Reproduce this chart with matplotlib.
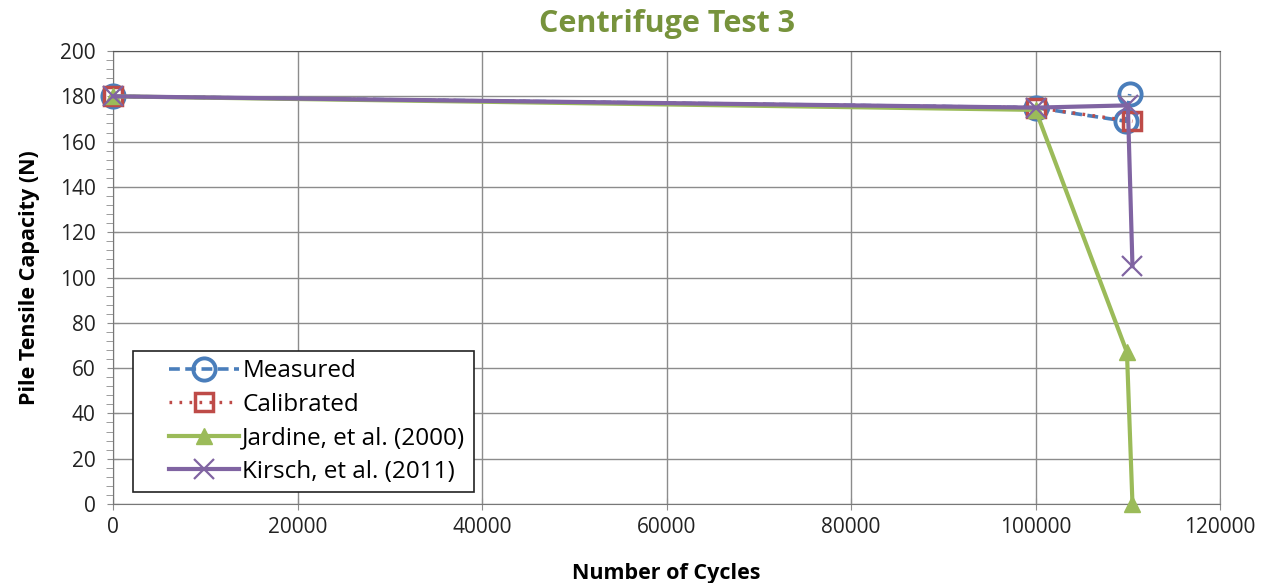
import matplotlib.pyplot as plt
from matplotlib.ticker import MultipleLocator
from matplotlib.legend_handler import HandlerLine2D

# pile tensile capacity vs number of cycles
measured_x = [0, 100000, 109800, 110200]
measured_y = [180, 175, 169, 181]
calibrated_x = [0, 100000, 110500]
calibrated_y = [180, 175, 169]
jardine_x = [0, 100000, 109900, 110500]
jardine_y = [180, 174, 67, 0]
kirsch_x = [0, 100000, 110000, 110500]
kirsch_y = [180, 175, 176, 105]

grey = '#8c8c8c'
plt.rcParams['font.family'] = ['Open Sans', 'DejaVu Sans']


class IndentedHandler(HandlerLine2D):
    # legend line pushed to the right, leaving a gap before it
    def create_artists(self, legend, orig_handle, xdescent, ydescent,
                       width, height, fontsize, trans):
        gap = 20
        return super().create_artists(legend, orig_handle, xdescent - gap,
                                      ydescent, width - gap, height,
                                      fontsize, trans)


fig = plt.figure(figsize=(12.67, 5.83), dpi=100)
ax = fig.add_axes([0.0892, 0.1355, 0.8738, 0.777])

ax.plot(measured_x, measured_y, color='#4a7ebb', lw=2.6, ls=(0, (3, 1.5)),
        marker='o', ms=16, mfc='none', mew=2.8, label='Measured', zorder=3,
        clip_on=False)
ax.plot(calibrated_x, calibrated_y, color='#be4b48', lw=2.4, ls=(0, (0.8, 2.2)),
        marker='s', ms=13, mfc='none', mew=2.5, label='Calibrated', zorder=4,
        clip_on=False)
ax.plot(jardine_x, jardine_y, color='#9bbb59', lw=3, marker='^', ms=12,
        label='Jardine, et al. (2000)', zorder=5, clip_on=False)
ax.plot(kirsch_x, kirsch_y, color='#8064a2', lw=3, marker='x', ms=14, mew=1.6,
        label='Kirsch, et al. (2011)', zorder=6, clip_on=False)

ax.set_xlim(0, 120000)
ax.set_ylim(0, 200)
ax.xaxis.set_major_locator(MultipleLocator(20000))
ax.yaxis.set_major_locator(MultipleLocator(20))
ax.yaxis.set_minor_locator(MultipleLocator(4))
ax.grid(True, color=grey, lw=1)
ax.set_axisbelow(True)
ax.tick_params(axis='both', which='major', direction='inout', length=9,
               color=grey, labelsize=15, labelcolor='#222222')
ax.tick_params(axis='y', which='major', pad=8)
ax.tick_params(axis='x', which='major', pad=5)
ax.tick_params(axis='y', which='minor', direction='out', length=5, color=grey)
for s in ax.spines.values():
    s.set_color(grey)
ax.spines['left'].set_color('#777777')
ax.spines['bottom'].set_color('#777777')
ax.spines['top'].set_color('#555555')

ax.set_title('Centrifuge Test 3', color='#77933c', fontsize=22,
             fontweight='bold', pad=14)
ax.set_xlabel('Number of Cycles', fontsize=15.5, fontweight='bold', labelpad=18)
ax.set_ylabel('Pile Tensile Capacity (N)', fontsize=15.5, fontweight='bold',
              labelpad=14)

leg = ax.legend(loc='lower left', bbox_to_anchor=(0.018, 0.026), fontsize=17.5,
                frameon=True, fancybox=False, edgecolor='#222222',
                framealpha=1, borderpad=0.35, handlelength=4.0,
                labelspacing=0.39, handletextpad=0.15, borderaxespad=0,
                handler_map={plt.Line2D: IndentedHandler()})
leg.get_frame().set_linewidth(1.2)

fig.savefig('out.png', dpi=100)
